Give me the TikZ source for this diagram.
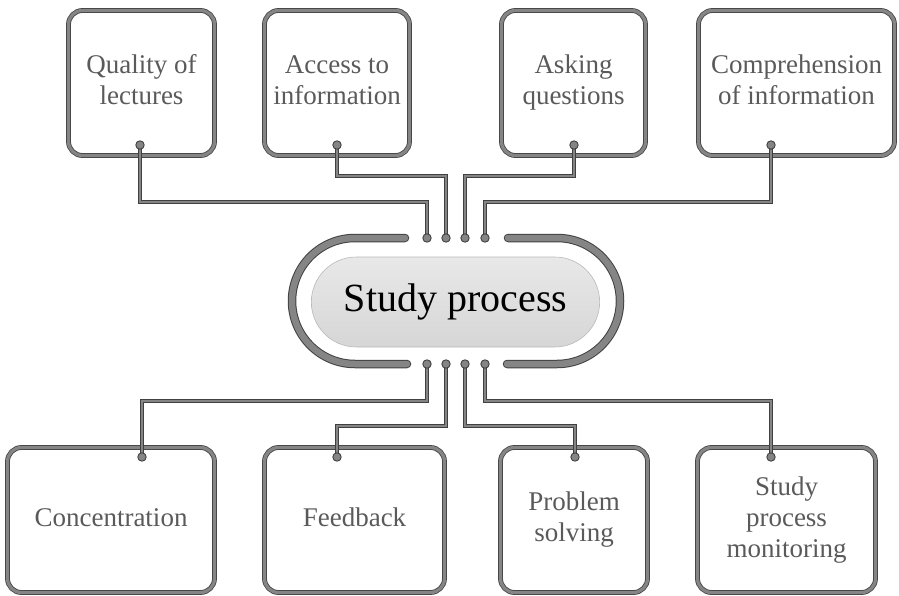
\documentclass[tikz,border=0pt]{standalone}
\usepackage{fontspec}
\setmainfont{Liberation Serif}
\usetikzlibrary{shapes.misc}

\definecolor{edgegray}{HTML}{404040}
\definecolor{fillgray}{HTML}{858585}
\definecolor{labelgray}{HTML}{5A5A5A}

\tikzset{
    box/.style={draw=edgegray, double=fillgray, line width=0.8pt, double distance=3.2pt,
        rounded corners=14pt, minimum height=145pt, align=center, inner sep=2pt,
        text=labelgray, font=\fontsize{27}{31}\selectfont},
    core/.style={rounded rectangle, draw=gray!55, line width=0.6pt, top color=gray!18,
        bottom color=gray!32, minimum width=295pt, minimum height=90pt,
        font=\fontsize{40}{46}\selectfont},
    track/.style={draw=edgegray, double=fillgray, line width=1pt, double distance=6.5pt,
        line cap=round},
    wire/.style={draw=edgegray, double=fillgray, line width=0.9pt, double distance=2.6pt},
    pin/.style={draw=edgegray, fill=fillgray, line width=0.9pt}
}

\begin{document}
\begin{tikzpicture}[x=1pt,y=-1pt]
    \useasboundingbox (0,0) rectangle (899,596);

    \node[box, minimum width=146pt] (qual) at (141.5,83) {Quality of\strut\\lectures\strut};
    \node[box, minimum width=145pt] (access) at (337,83) {Access to\strut\\information\strut};
    \node[box, minimum width=144pt] (asking) at (573.5,83) {Asking\strut\\questions\strut};
    \node[box, minimum width=196pt] (compr) at (796.5,83) {Comprehension\strut\\of information\strut};

    \node[box, minimum width=207pt] (conc) at (111,520) {Concentration\strut};
    \node[box, minimum width=180pt] (feed) at (354.5,520) {Feedback\strut};
    \node[box, minimum width=147pt] (prob) at (574,520) {Problem\strut\\solving\strut};
    \node[box, minimum width=178pt] (monit) at (786.5,520) {Study\strut\\process\strut\\monitoring\strut};

    \node[core] (study) at (455.5,302) {Study process};
    \draw[track] (405,238) -- (355,238) arc (90:270:63pt) -- (407,364);
    \draw[track] (508,238) -- (557,238) arc (90:-90:63pt) -- (507,364);

    \coordinate (t1) at (427,238);
    \coordinate (t2) at (446,238);
    \coordinate (t3) at (465,238);
    \coordinate (t4) at (485,238);
    \coordinate (b1) at (427,364);
    \coordinate (b2) at (446,364);
    \coordinate (b3) at (465,364);
    \coordinate (b4) at (485,364);

    \coordinate (qualpin) at (140,145);
    \coordinate (accesspin) at (337,145);
    \coordinate (askingpin) at (574,145);
    \coordinate (comprpin) at (771,145);
    \coordinate (concpin) at (142,457);
    \coordinate (feedpin) at (337,457);
    \coordinate (probpin) at (575,457);
    \coordinate (monitpin) at (771,457);

    \draw[wire] (qualpin) -- (qualpin |- 0,202) -| (t1);
    \draw[wire] (accesspin) -- (accesspin |- 0,176) -| (t2);
    \draw[wire] (askingpin) -- (askingpin |- 0,176) -| (t3);
    \draw[wire] (comprpin) -- (comprpin |- 0,202) -| (t4);
    \draw[wire] (concpin) -- (concpin |- 0,401) -| (b1);
    \draw[wire] (feedpin) -- (feedpin |- 0,426) -| (b2);
    \draw[wire] (probpin) -- (probpin |- 0,426) -| (b3);
    \draw[wire] (monitpin) -- (monitpin |- 0,401) -| (b4);

    \draw[pin] (t1) circle (4.2pt);
    \draw[pin] (t2) circle (4.2pt);
    \draw[pin] (t3) circle (4.2pt);
    \draw[pin] (t4) circle (4.2pt);
    \draw[pin] (b1) circle (4.2pt);
    \draw[pin] (b2) circle (4.2pt);
    \draw[pin] (b3) circle (4.2pt);
    \draw[pin] (b4) circle (4.2pt);
    \draw[pin] (qualpin) circle (4.2pt);
    \draw[pin] (accesspin) circle (4.2pt);
    \draw[pin] (askingpin) circle (4.2pt);
    \draw[pin] (comprpin) circle (4.2pt);
    \draw[pin] (concpin) circle (4.2pt);
    \draw[pin] (feedpin) circle (4.2pt);
    \draw[pin] (probpin) circle (4.2pt);
    \draw[pin] (monitpin) circle (4.2pt);
\end{tikzpicture}
\end{document}
